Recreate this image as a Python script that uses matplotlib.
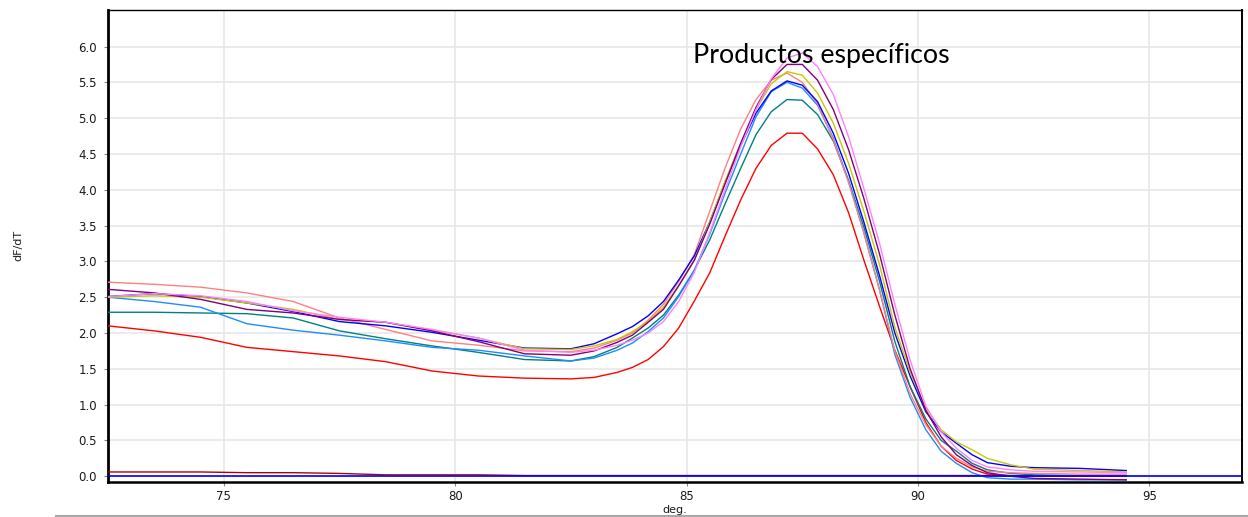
import matplotlib
matplotlib.use("Agg")
import matplotlib.pyplot as plt
from matplotlib.lines import Line2D

# Temperature grid (deg.)
temps = [72.5, 73.5, 74.5, 75.5, 76.5, 77.5, 78.5, 79.5, 80.5, 81.5, 82.5, 83.0,
         83.5, 83.83, 84.17, 84.5, 84.83, 85.17, 85.5, 85.83, 86.17, 86.5, 86.83,
         87.17, 87.5, 87.83, 88.17, 88.5, 88.83, 89.17, 89.5, 89.83, 90.17, 90.5,
         90.83, 91.17, 91.5, 92.0, 92.5, 93.5, 94.5]

salmon = [2.71, 2.68, 2.64, 2.56, 2.44, 2.21, 2.05, 1.89, 1.83, 1.75, 1.74, 1.79,
          1.90, 2.00, 2.18, 2.40, 2.72, 3.10, 3.70, 4.30, 4.85, 5.26, 5.53,
          5.63, 5.50, 5.20, 4.70, 4.10, 3.40, 2.60, 1.75, 1.15, 0.72, 0.42,
          0.25, 0.13, 0.07, 0.05, 0.04, 0.03, 0.03]
red = [2.10, 2.03, 1.94, 1.80, 1.74, 1.68, 1.60, 1.47, 1.40, 1.37, 1.36, 1.38,
       1.45, 1.52, 1.63, 1.81, 2.07, 2.45, 2.84, 3.35, 3.86, 4.30, 4.62,
       4.79, 4.79, 4.57, 4.21, 3.68, 3.02, 2.37, 1.76, 1.25, 0.75, 0.42,
       0.22, 0.10, 0.03, 0.01, 0.00, 0.00, 0.00]
blue = [2.51, 2.55, 2.51, 2.42, 2.30, 2.16, 2.10, 2.01, 1.90, 1.79, 1.78, 1.85,
        1.99, 2.09, 2.24, 2.44, 2.74, 3.08, 3.55, 4.10, 4.62, 5.07, 5.38,
        5.52, 5.46, 5.23, 4.79, 4.23, 3.55, 2.80, 2.00, 1.40, 0.90, 0.62,
        0.46, 0.30, 0.19, 0.14, 0.12, 0.11, 0.08]
dodger = [2.50, 2.44, 2.36, 2.13, 2.04, 1.97, 1.89, 1.80, 1.76, 1.68, 1.61, 1.65,
          1.76, 1.86, 2.02, 2.21, 2.51, 2.88, 3.38, 3.95, 4.50, 5.02, 5.37,
          5.50, 5.42, 5.18, 4.72, 4.12, 3.40, 2.60, 1.70, 1.10, 0.65, 0.35,
          0.18, 0.05, -0.02, -0.04, -0.04, -0.05, -0.05]
teal = [2.29, 2.29, 2.28, 2.27, 2.21, 2.03, 1.92, 1.82, 1.73, 1.63, 1.61, 1.67,
        1.80, 1.93, 2.07, 2.25, 2.53, 2.88, 3.30, 3.80, 4.30, 4.77, 5.09,
        5.26, 5.25, 5.05, 4.68, 4.13, 3.48, 2.72, 1.88, 1.25, 0.80, 0.50,
        0.35, 0.18, 0.09, 0.04, 0.02, 0.01, 0.01]
yellow = [2.50, 2.52, 2.50, 2.42, 2.33, 2.19, 2.15, 2.04, 1.93, 1.78, 1.77, 1.82,
          1.91, 2.02, 2.16, 2.36, 2.66, 3.02, 3.55, 4.12, 4.65, 5.12, 5.48,
          5.65, 5.60, 5.35, 4.93, 4.37, 3.70, 2.95, 2.08, 1.45, 0.95, 0.65,
          0.48, 0.37, 0.25, 0.16, 0.10, 0.08, 0.06]
purple = [2.61, 2.56, 2.47, 2.33, 2.28, 2.19, 2.15, 2.03, 1.88, 1.71, 1.69, 1.75,
          1.87, 1.97, 2.15, 2.33, 2.66, 3.02, 3.52, 4.08, 4.65, 5.15, 5.54,
          5.75, 5.75, 5.53, 5.12, 4.56, 3.88, 3.10, 2.25, 1.50, 0.92, 0.55,
          0.30, 0.15, 0.05, 0.00, -0.03, -0.04, -0.05]
violet = [2.51, 2.55, 2.52, 2.44, 2.31, 2.22, 2.15, 2.05, 1.93, 1.76, 1.73, 1.76,
          1.83, 1.90, 2.00, 2.16, 2.44, 2.85, 3.40, 4.00, 4.60, 5.12, 5.55,
          5.84, 5.91, 5.72, 5.33, 4.74, 4.02, 3.25, 2.40, 1.62, 0.98, 0.62,
          0.39, 0.22, 0.13, 0.09, 0.07, 0.06, 0.05]
darkred = [0.06, 0.06, 0.06, 0.05, 0.05, 0.04, 0.02, 0.02, 0.02, 0.01, 0.01, 0.01,
           0.01, 0.01, 0.01, 0.01, 0.01, 0.01, 0.01, 0.01, 0.01, 0.01, 0.01,
           0.01, 0.01, 0.01, 0.01, 0.01, 0.01, 0.01, 0.01, 0.01, 0.01, 0.01,
           0.01, 0.01, 0.01, 0.00, 0.00, 0.00, 0.00]

series = [
    (darkred, "#B00000"),
    (red, "#FF0000"),
    (teal, "#008080"),
    (dodger, "#1E8CFF"),
    (salmon, "#FF8080"),
    (blue, "#0000FF"),
    (yellow, "#C8C800"),
    (purple, "#800080"),
    (violet, "#FF80FF"),
]

x_ticks = [75, 80, 85, 90, 95]
y_ticks = [0.0, 0.5, 1.0, 1.5, 2.0, 2.5, 3.0, 3.5, 4.0, 4.5, 5.0, 5.5, 6.0]
y_tick_labels = ["%.1f" % v for v in y_ticks]

fig = plt.figure(figsize=(12.48, 5.17), dpi=100)
ax = fig.add_axes([108 / 1248, 1 - 482 / 517, (1242 - 108) / 1248, (482 - 10) / 517])

for vals, col in series:
    ax.plot(temps, vals, color=col, lw=1.0, zorder=3)

ax.axhline(0.0, color="#0000FF", lw=1.2, zorder=4)

ax.set_xlim(72.5, 97.0)
ax.set_ylim(-0.08, 6.51)
ax.set_xticks(x_ticks)
ax.set_xticklabels([str(t) for t in x_ticks])
ax.set_yticks(y_ticks)
ax.set_yticklabels(y_tick_labels)
ax.grid(True, color="#E6E6E6", lw=1.1, zorder=0)
ax.set_axisbelow(True)

for lab in ax.get_xticklabels() + ax.get_yticklabels():
    lab.set_fontfamily("DejaVu Sans")
    lab.set_fontsize(8.5)
    lab.set_color("#1a1a1a")
ax.tick_params(axis="y", direction="out", length=3, width=0.8, color="#888888", pad=5)
ax.tick_params(axis="x", direction="out", length=3, width=0.8, color="#888888", pad=3)

ax.spines["left"].set_linewidth(2.0)
ax.spines["bottom"].set_linewidth(1.8)
ax.spines["right"].set_linewidth(1.4)
ax.spines["top"].set_linewidth(1.0)
for s in ax.spines.values():
    s.set_color("black")

fig.text(18 / 1248, 1 - 245 / 517, "dF/dT", rotation=90, ha="center", va="center",
         fontsize=8, family="DejaVu Sans", color="#1a1a1a")
fig.text(675 / 1248, 1 - 510 / 517, "deg.", ha="center", va="center",
         fontsize=8, family="DejaVu Sans", color="#1a1a1a")

ax.text(693 / 1248, 1 - 63 / 517, "Productos específicos", transform=fig.transFigure,
        ha="left", va="baseline", fontsize=19.3, family="Lato", color="black", zorder=6)

fig.add_artist(Line2D([56 / 1248, 1.0], [1 - 516 / 517, 1 - 516 / 517],
                      transform=fig.transFigure, color="#A8A8A8", lw=1.5))

fig.savefig("out.png", dpi=100, facecolor="white")
